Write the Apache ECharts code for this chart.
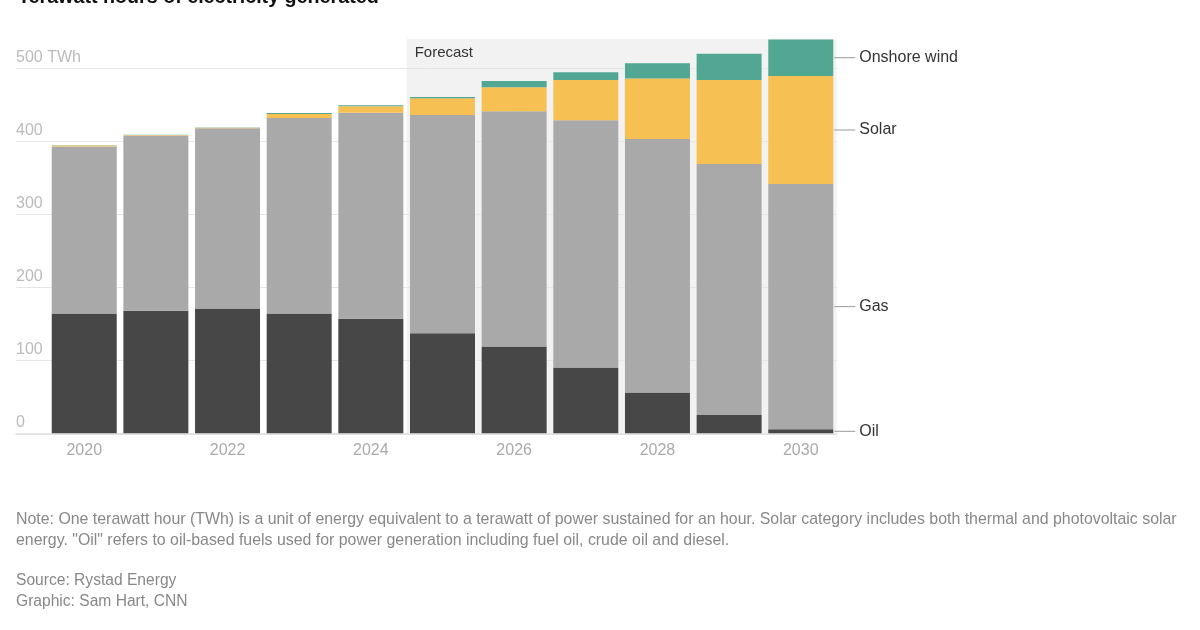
<!DOCTYPE html>
<html>
<head>
<meta charset="utf-8">
<script src="https://cdn.jsdelivr.net/npm/echarts@6/dist/echarts.min.js"></script>
<style>
html,body{margin:0;padding:0;background:#fff;}
#c{width:1200px;height:630px;}
</style>
</head>
<body>
<div id="c"></div>
<script>
const years = ['2020','2021','2022','2023','2024','2025','2026','2027','2028','2029','2030'];
const oil   = [164, 168, 171, 164, 157, 137, 119, 90, 56, 25, 5.5];
const gas   = [229, 240, 247, 268, 282, 299, 322, 339, 347, 344, 336];
const solar = [1.4, 0.8, 0.6, 5.5, 9, 23, 33, 55, 83, 115, 148];
const wind  = [0.3, 0.3, 0.4, 1.4, 1.3, 1.8, 8.5, 10.5, 21, 36, 50];
const yTicks = [0, 100, 200, 300, 400, 500];
const yMax = 540;
const forecastFrom = '2025';

const FONT = '"Liberation Sans", Arial, Helvetica, sans-serif';
const chart = echarts.init(document.getElementById('c'), null, {renderer: 'canvas'});

const gridPos = {top: 39.1, bottom: 196.7, right: 363.4};
const last = years.length - 1;

function withEndLabel(arr, name) {
  return arr.map((v, i) => i === last ? {
    value: v,
    label: {
      show: true, position: 'right', distance: 1,
      formatter: '{l|}{t|' + name + '}',
      rich: {
        l: {width: 21, height: 1, backgroundColor: '#999'},
        t: {padding: [0, 0, 0, 4], fontSize: 16, color: '#333', fontFamily: FONT}
      }
    }
  } : v);
}

const fStart = years.indexOf(forecastFrom) - 0.5;
const fEnd = years.length - 0.5;

const option = {
  animation: false,
  textStyle: {fontFamily: FONT},
  grid: [
    Object.assign({left: 48.4}, gridPos),
    Object.assign({left: 16}, gridPos)
  ],
  xAxis: [
    {type: 'category', gridIndex: 0, data: years,
     axisLine: {show: false}, axisTick: {show: false},
     axisLabel: {interval: 1, color: '#aaa', fontSize: 16, margin: 9, fontFamily: FONT},
     splitLine: {show: false}},
    {type: 'value', gridIndex: 0, min: -0.5, max: years.length - 0.5, show: false},
    {type: 'value', gridIndex: 1, min: 0, max: 1,
     axisLabel: {show: false}, axisTick: {show: false}, splitLine: {show: false},
     axisLine: {show: true, lineStyle: {color: '#d6d6d6', width: 1.5}}}
  ],
  yAxis: [
    {type: 'value', gridIndex: 0, min: 0, max: yMax, show: false},
    {type: 'value', gridIndex: 1, min: 0, max: yMax, interval: 100, z: 1,
     axisLine: {show: false}, axisTick: {show: false},
     splitLine: {show: true, showMaxLine: false, lineStyle: {color: '#e6e6e6', width: 1}},
     axisLabel: {inside: true, margin: 0, verticalAlign: 'bottom', padding: [0, 0, 3, 0],
       showMaxLabel: false, color: '#bbb', fontSize: 16, fontFamily: FONT,
       formatter: v => yTicks.indexOf(v) < 0 ? '' : (v === 500 ? '500 TWh' : String(v))}}
  ],
  series: [
    {type: 'custom', xAxisIndex: 1, yAxisIndex: 0, z: 0, silent: true,
     data: [[fStart, fEnd]], encode: {x: [0, 1]},
     renderItem: function (params, api) {
       const a = api.coord([api.value(0), yMax]);
       const b = api.coord([api.value(1), 0]);
       return {type: 'group', children: [
         {type: 'rect', shape: {x: a[0], y: a[1], width: b[0] - a[0], height: b[1] - a[1]},
          style: {fill: '#f2f2f2'}},
         {type: 'text', x: a[0] + 8, y: a[1] + 14,
          style: {text: 'Forecast', fill: '#333', font: '15px ' + FONT, verticalAlign: 'middle'}}
       ]};
     }},
    {name: 'Oil', type: 'bar', stack: 't', barWidth: 65, z: 2, itemStyle: {color: '#474747'},
     data: withEndLabel(oil, 'Oil')},
    {name: 'Gas', type: 'bar', stack: 't', barWidth: 65, z: 2, itemStyle: {color: '#a9a9a9'},
     data: withEndLabel(gas, 'Gas')},
    {name: 'Solar', type: 'bar', stack: 't', barWidth: 65, z: 2, itemStyle: {color: '#f6c053'},
     data: withEndLabel(solar, 'Solar')},
    {name: 'Onshore wind', type: 'bar', stack: 't', barWidth: 65, z: 2, itemStyle: {color: '#52a793'},
     data: withEndLabel(wind, 'Onshore wind')}
  ],
  graphic: [
    {type: 'text', left: 18, top: -12,
     style: {text: 'Terawatt hours of electricity generated', fill: '#111', font: 'bold 19.7px ' + FONT}},
    {type: 'text', left: 16, top: 509,
     style: {text: 'Note: One terawatt hour (TWh) is a unit of energy equivalent to a terawatt of power sustained for an hour. Solar category includes both thermal and photovoltaic solar\nenergy. "Oil" refers to oil-based fuels used for power generation including fuel oil, crude oil and diesel.',
       fill: '#888', font: '15.9px ' + FONT, lineHeight: 21}},
    {type: 'text', left: 16, top: 570,
     style: {text: 'Source: Rystad Energy\nGraphic: Sam Hart, CNN', fill: '#888', font: '15.6px ' + FONT, lineHeight: 21}}
  ]
};
chart.setOption(option);
</script>
</body>
</html>
